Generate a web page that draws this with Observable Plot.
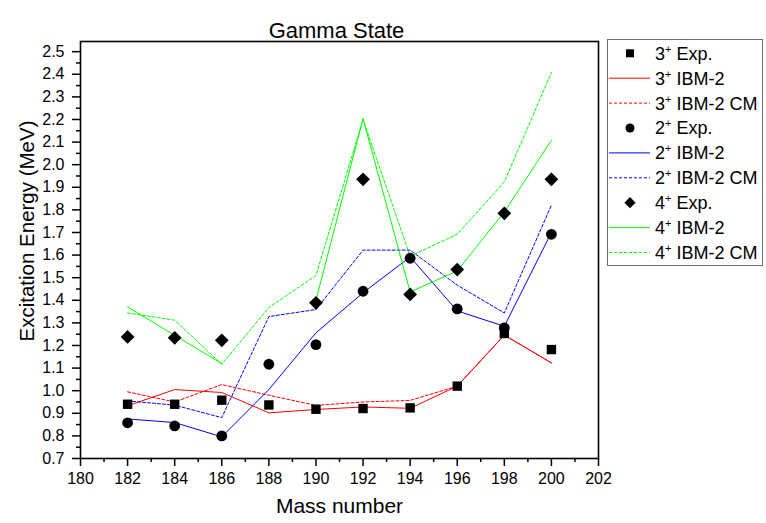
<!DOCTYPE html>
<html><head><meta charset="utf-8">
<script src="https://cdn.jsdelivr.net/npm/d3@7"></script>
<script src="https://cdn.jsdelivr.net/npm/@observablehq/plot@0.6"></script>
<style>body{margin:0;background:#fff;font-family:"Liberation Sans",Arial,sans-serif}</style>
</head><body><div id="chart"></div>
<script>
const massNumbers = [182,184,186,188,190,192,194,196,198,200];
const exp3 = [0.940,0.940,0.958,0.937,0.918,0.921,0.924,1.020,1.253,1.182];
const ibm3 = [0.933,1.005,0.992,0.902,0.917,0.928,0.922,1.020,1.246,1.123];
const cm3  = [0.995,0.950,1.027,0.980,0.935,0.950,0.957,1.020,1.246,1.123];
const exp2 = [0.858,0.844,0.800,1.117,1.204,1.440,1.586,1.362,1.278,1.692];
const ibm2 = [0.875,0.859,0.796,1.005,1.256,1.433,1.592,1.353,1.285,1.700];
const cm2  = [0.955,0.936,0.881,1.328,1.359,1.622,1.622,1.467,1.344,1.821];
const exp4 = [1.238,1.234,1.223,null,1.389,1.935,1.426,1.536,1.785,1.935];
const ibm4 = [1.371,1.245,1.120,null,1.400,2.204,1.437,1.530,1.791,2.108];
const cm4  = [1.344,1.312,1.117,1.368,1.510,2.200,1.595,1.692,1.924,2.408];

const xTicks = [180,182,184,186,188,190,192,194,196,198,200,202];
const xMinor = [181,183,185,187,189,191,193,195,197,199,201];
const yTicks = [0.7,0.8,0.9,1.0,1.1,1.2,1.3,1.4,1.5,1.6,1.7,1.8,1.9,2.0,2.1,2.2,2.3,2.4,2.5];
const yMinor = [0.75,0.85,0.95,1.05,1.15,1.25,1.35,1.45,1.55,1.65,1.75,1.85,1.95,2.05,2.15,2.25,2.35,2.45];

const RED = "#ff0000", BLUE = "#0000ff", GREEN = "#00ff00";
const DASH = "3,2";

const legendItems = [
  {state:"3", name:"Exp.", kind:"square"},
  {state:"3", name:"IBM-2", kind:"solid", color:RED},
  {state:"3", name:"IBM-2 CM", kind:"dash", color:RED},
  {state:"2", name:"Exp.", kind:"circle"},
  {state:"2", name:"IBM-2", kind:"solid", color:BLUE},
  {state:"2", name:"IBM-2 CM", kind:"dash", color:BLUE},
  {state:"4", name:"Exp.", kind:"diamond"},
  {state:"4", name:"IBM-2", kind:"solid", color:GREEN},
  {state:"4", name:"IBM-2 CM", kind:"dash", color:GREEN}
];

const line = (arr, color, dashed) => Plot.line(massNumbers, {
  x: d => d, y: (d, i) => arr[i], stroke: color, strokeWidth: 1,
  strokeDasharray: dashed ? DASH : null
});
const dots = (arr, symbol, r) => Plot.dot(massNumbers, {
  x: d => d, y: (d, i) => arr[i], symbol, r, fill: "black", stroke: "none"
});

const chart = Plot.plot({
  width: 766, height: 523,
  marginTop: 41, marginRight: 168, marginBottom: 65, marginLeft: 80,
  style: {fontFamily: "'Liberation Sans', Arial, sans-serif", background: "white", color: "black"},
  x: {domain: [180, 202]},
  y: {domain: [0.7, 2.545]},
  marks: [
    line(ibm3, RED, false), line(cm3, RED, true),
    line(ibm2, BLUE, false), line(cm2, BLUE, true),
    line(ibm4, GREEN, false), line(cm4, GREEN, true),
    dots(exp3, "square", 5.3),
    dots(exp2, "circle", 5.4),
    dots(exp4, "diamond2", 6.2),
    Plot.frame({stroke: "black", strokeWidth: 1.6}),
    Plot.axisX({ticks: xTicks, tickSize: 8, tickPadding: 6, fontSize: 16, strokeWidth: 1.5, label: null, tickFormat: d3.format("d")}),
    Plot.axisX({ticks: xMinor, tickSize: 4, strokeWidth: 1.5, label: null, tickFormat: () => ""}),
    Plot.axisY({ticks: yTicks, tickSize: 8, tickPadding: 8, fontSize: 16, strokeWidth: 1.5, label: null, tickFormat: d3.format(".1f")}),
    Plot.axisY({ticks: yMinor, tickSize: 4, strokeWidth: 1.5, label: null, tickFormat: () => ""}),
    Plot.text(["Gamma State"], {frameAnchor: "top", dy: -19, dx: -3, fontSize: 22, text: d => d}),
    Plot.text(["Mass number"], {frameAnchor: "bottom", dy: 54, fontSize: 21, text: d => d}),
    Plot.text(["Excitation Energy (MeV)"], {frameAnchor: "left", textAnchor: "middle", dx: -53, dy: -19, rotate: -90, fontSize: 20.5, text: d => d})
  ]
});
document.getElementById("chart").appendChild(chart);

// legend
const svg = d3.select(chart);
const lg = svg.append("g").attr("font-family", "'Liberation Sans', Arial, sans-serif").attr("text-anchor", "start");
lg.append("rect").attr("x", 607.5).attr("y", 39.5).attr("width", 155).attr("height", 226)
  .attr("fill", "white").attr("stroke", "#707070").attr("stroke-width", 1);
legendItems.forEach((it, i) => {
  const y = 53.3 + i * 24.9;
  if (it.kind === "solid" || it.kind === "dash") {
    lg.append("line").attr("x1", 609).attr("x2", 650).attr("y1", y).attr("y2", y)
      .attr("stroke", it.color).attr("stroke-width", 1)
      .attr("stroke-dasharray", it.kind === "dash" ? DASH : null);
  } else {
    const sym = it.kind === "square" ? d3.symbolSquare : it.kind === "circle" ? d3.symbolCircle : d3.symbolDiamond2;
    const size = it.kind === "square" ? 64 : it.kind === "circle" ? 64 : 80;
    lg.append("path").attr("d", d3.symbol(sym, size)()).attr("transform", `translate(630,${y})`).attr("fill", "black");
  }
  const t = lg.append("text").attr("x", 655).attr("y", y).attr("dy", "0.36em").attr("font-size", 18).attr("fill", "black").attr("text-anchor", "start");
  t.append("tspan").text(it.state);
  t.append("tspan").attr("dy", -7).attr("font-size", 11).text("+");
  t.append("tspan").attr("dy", 7).text(" " + it.name);
});
</script></body></html>
